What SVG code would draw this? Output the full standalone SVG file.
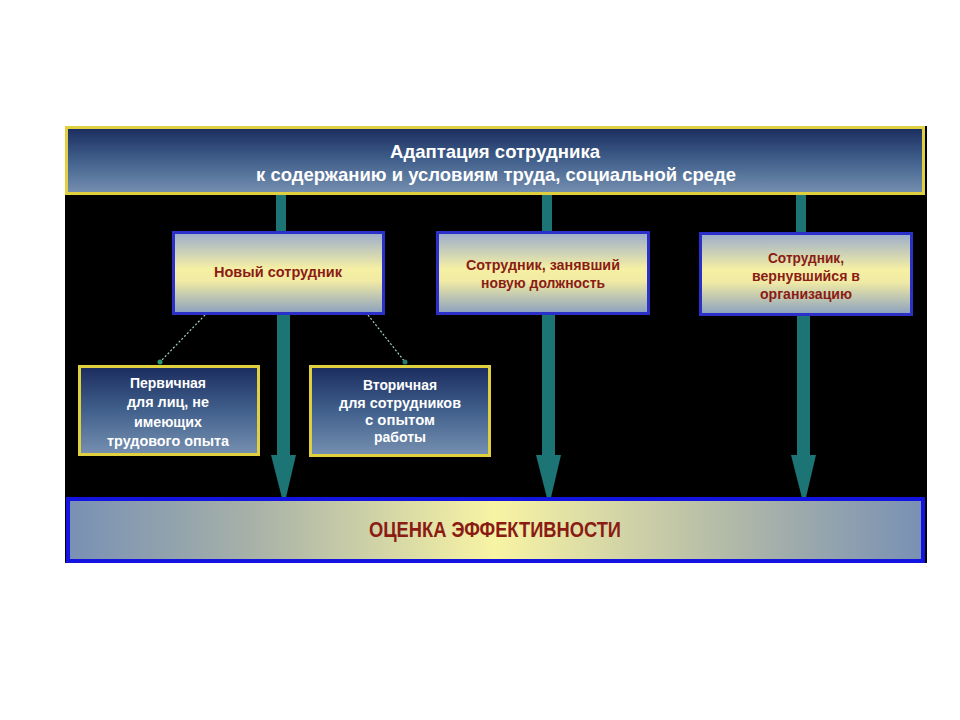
<svg xmlns="http://www.w3.org/2000/svg" width="960" height="720" viewBox="0 0 960 720">
<defs>
<linearGradient id="gNavy" x1="0" y1="0" x2="0" y2="1">
<stop offset="0" stop-color="#1a2c5e"/>
<stop offset="0.5" stop-color="#41608c"/>
<stop offset="1" stop-color="#7690b0"/>
</linearGradient>
<linearGradient id="gMid" x1="0" y1="0" x2="0" y2="1">
<stop offset="0" stop-color="#9aaccc"/>
<stop offset="0.45" stop-color="#f6f0a4"/>
<stop offset="0.6" stop-color="#f0eaa4"/>
<stop offset="1" stop-color="#8aa0c0"/>
</linearGradient>
<linearGradient id="gBottom" x1="0" y1="0" x2="1" y2="0">
<stop offset="0" stop-color="#7890b4"/>
<stop offset="0.22" stop-color="#a8b2a8"/>
<stop offset="0.5" stop-color="#f8f4a4"/>
<stop offset="0.78" stop-color="#b0b8a8"/>
<stop offset="1" stop-color="#7890b4"/>
</linearGradient>
</defs>
<style>
.wt{font-family:"Liberation Sans",Arial,sans-serif;font-weight:bold;fill:#ffffff;text-anchor:middle}
.rt{font-family:"Liberation Sans",Arial,sans-serif;font-weight:bold;fill:#8a1c14;text-anchor:middle}
.arrow{fill:#1c7474}
.dot{stroke:#a0d8c0;stroke-width:1.2;stroke-dasharray:2 2;fill:none}
</style>
<rect x="0" y="0" width="960" height="720" fill="#ffffff"/>
<rect x="65" y="126" width="862" height="437" fill="#000000"/>
<g id="connectors">
<rect class="arrow" x="276" y="195" width="10" height="38"/>
<rect class="arrow" x="542" y="195" width="10" height="38"/>
<rect class="arrow" x="796" y="195" width="10" height="38"/>
<rect class="arrow" x="277" y="313" width="13" height="143"/>
<polygon class="arrow" points="271,455 296,455 284,506"/>
<rect class="arrow" x="542" y="313" width="13" height="143"/>
<polygon class="arrow" points="536,455 561,455 549,506"/>
<rect class="arrow" x="797" y="313" width="13" height="143"/>
<polygon class="arrow" points="791,455 816,455 804,506"/>
<line class="dot" x1="205" y1="315" x2="160" y2="362"/>
<circle cx="160" cy="362" r="2.5" fill="#2a9a6a"/>
<line class="dot" x1="368" y1="315" x2="405" y2="362"/>
<circle cx="405" cy="362" r="2.5" fill="#2a7a6a"/>
</g>
<g id="top">
<rect x="66.5" y="127.5" width="857" height="66" fill="url(#gNavy)" stroke="#e0d040" stroke-width="3"/>
<text class="wt" x="495" y="158" font-size="19" textLength="210" lengthAdjust="spacingAndGlyphs">Адаптация сотрудника</text>
<text class="wt" x="496" y="181" font-size="19" textLength="480" lengthAdjust="spacingAndGlyphs">к содержанию и условиям труда, социальной среде</text>
</g>
<g id="new">
<rect x="173.5" y="232.5" width="210" height="81" fill="url(#gMid)" stroke="#2a30c8" stroke-width="3"/>
<text class="rt" x="278" y="277" font-size="14.5" textLength="128" lengthAdjust="spacingAndGlyphs">Новый сотрудник</text>
</g>
<g id="position">
<rect x="437.5" y="232.5" width="211" height="81" fill="url(#gMid)" stroke="#2a30c8" stroke-width="3"/>
<text class="rt" x="543" y="270" font-size="14.5" textLength="154" lengthAdjust="spacingAndGlyphs">Сотрудник, занявший</text>
<text class="rt" x="543" y="288" font-size="14.5" textLength="124" lengthAdjust="spacingAndGlyphs">новую должность</text>
</g>
<g id="returned">
<rect x="700.5" y="233.5" width="211" height="81" fill="url(#gMid)" stroke="#2a30c8" stroke-width="3"/>
<text class="rt" x="806" y="263" font-size="14.5" textLength="76" lengthAdjust="spacingAndGlyphs">Сотрудник,</text>
<text class="rt" x="806" y="281" font-size="14.5" textLength="108" lengthAdjust="spacingAndGlyphs">вернувшийся в</text>
<text class="rt" x="806" y="299" font-size="14.5" textLength="92" lengthAdjust="spacingAndGlyphs">организацию</text>
</g>
<g id="primary">
<rect x="79.5" y="366.5" width="179" height="88" fill="url(#gNavy)" stroke="#e0d040" stroke-width="3"/>
<text class="wt" x="168" y="388" font-size="14" textLength="76" lengthAdjust="spacingAndGlyphs">Первичная</text>
<text class="wt" x="168" y="407" font-size="14" textLength="82" lengthAdjust="spacingAndGlyphs">для лиц, не</text>
<text class="wt" x="168" y="427" font-size="14" textLength="68" lengthAdjust="spacingAndGlyphs">имеющих</text>
<text class="wt" x="168" y="446" font-size="14" textLength="122" lengthAdjust="spacingAndGlyphs">трудового опыта</text>
</g>
<g id="secondary">
<rect x="310.5" y="366.5" width="179" height="89" fill="url(#gNavy)" stroke="#e0d040" stroke-width="3"/>
<text class="wt" x="400" y="390" font-size="14" textLength="74" lengthAdjust="spacingAndGlyphs">Вторичная</text>
<text class="wt" x="400" y="408" font-size="14" textLength="122" lengthAdjust="spacingAndGlyphs">для сотрудников</text>
<text class="wt" x="400" y="425" font-size="14" textLength="70" lengthAdjust="spacingAndGlyphs">с опытом</text>
<text class="wt" x="400" y="442" font-size="14" textLength="52" lengthAdjust="spacingAndGlyphs">работы</text>
</g>
<g id="evaluation">
<rect x="68" y="499" width="855" height="62" fill="url(#gBottom)" stroke="#1414e0" stroke-width="4"/>
<text class="rt" x="495" y="537" font-size="22" textLength="252" lengthAdjust="spacingAndGlyphs">ОЦЕНКА ЭФФЕКТИВНОСТИ</text>
</g>
</svg>
